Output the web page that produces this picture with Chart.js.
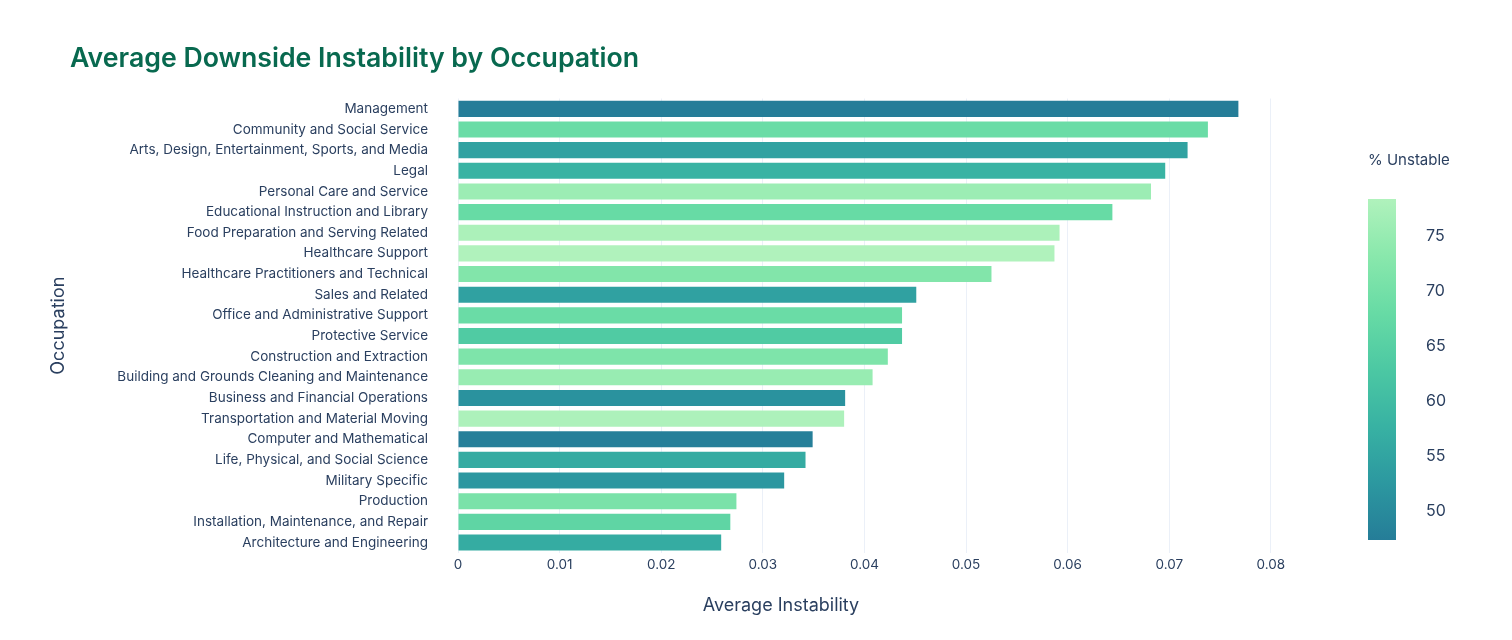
<!DOCTYPE html>
<html>
<head>
<meta charset="utf-8">
<script src="https://cdn.jsdelivr.net/npm/chart.js@4.4.1/dist/chart.umd.min.js"></script>
<style>
html, body { margin: 0; padding: 0; background: #fff; }
#wrap { width: 1512px; height: 640px; position: relative; }
</style>
</head>
<body>
<div id="wrap"><canvas id="chart"></canvas></div>
<script>
// data
const occupations = [
    'Management',
    'Community and Social Service',
    'Arts, Design, Entertainment, Sports, and Media',
    'Legal',
    'Personal Care and Service',
    'Educational Instruction and Library',
    'Food Preparation and Serving Related',
    'Healthcare Support',
    'Healthcare Practitioners and Technical',
    'Sales and Related',
    'Office and Administrative Support',
    'Protective Service',
    'Construction and Extraction',
    'Building and Grounds Cleaning and Maintenance',
    'Business and Financial Operations',
    'Transportation and Material Moving',
    'Computer and Mathematical',
    'Life, Physical, and Social Science',
    'Military Specific',
    'Production',
    'Installation, Maintenance, and Repair',
    'Architecture and Engineering'
];
const avgInstability = [
    0.0768, 0.0738, 0.0718, 0.0696, 0.0682, 0.0644, 0.0592, 0.0587, 0.0525, 0.0451, 0.0437,
    0.0437, 0.0423, 0.0408, 0.0381, 0.0380, 0.0349, 0.0342, 0.0321, 0.0274, 0.0268, 0.0259
];
const pctUnstable = [
    47.4, 68.5, 54.6, 58.0, 75.8, 68.0, 77.9, 78.4, 72.1, 54.4, 68.5,
    63.7, 71.5, 75.2, 51.4, 78.0, 47.8, 56.3, 52.3, 71.0, 66.5, 56.5
];
const xTicks = [0, 0.01, 0.02, 0.03, 0.04, 0.05, 0.06, 0.07, 0.08];
const colorbarTicks = [50, 55, 60, 65, 70, 75];

// Tealgrn colour scale, dark = low
const colorScale = ['#257d98', '#2c98a0', '#38b2a3', '#4cc8a3', '#67dba5', '#89e8ac', '#b0f2bc'];
const cMin = Math.min(...pctUnstable);
const cMax = Math.max(...pctUnstable);

function hexToRgb(h) {
    return [parseInt(h.slice(1, 3), 16), parseInt(h.slice(3, 5), 16), parseInt(h.slice(5, 7), 16)];
}

function scaleColor(v) {
    let t = (v - cMin) / (cMax - cMin);
    t = Math.max(0, Math.min(1, t));
    const pos = t * (colorScale.length - 1);
    const i = Math.min(Math.floor(pos), colorScale.length - 2);
    const f = pos - i;
    const a = hexToRgb(colorScale[i]);
    const b = hexToRgb(colorScale[i + 1]);
    const c = a.map((x, k) => Math.round(x + (b[k] - x) * f));
    return 'rgb(' + c.join(',') + ')';
}

const textColor = '#2a3f5f';
const fontFamily = 'Inter, "Noto Sans", sans-serif';

// colorbar and x axis title drawn beside the plot
const colorbarPlugin = {
    id: 'colorbar',
    afterDraw(chart) {
        const ctx = chart.ctx;
        const x = 1368, w = 28, top = 199, bottom = 540;
        const grad = ctx.createLinearGradient(0, bottom, 0, top);
        colorScale.forEach((c, i) => grad.addColorStop(i / (colorScale.length - 1), c));
        ctx.save();
        ctx.fillStyle = grad;
        ctx.fillRect(x, top, w, bottom - top);

        ctx.fillStyle = textColor;
        ctx.font = '15px ' + fontFamily;
        ctx.textAlign = 'left';
        ctx.textBaseline = 'middle';
        ctx.fillText('% Unstable', x, 160);

        ctx.font = '16px ' + fontFamily;
        colorbarTicks.forEach(v => {
            const y = bottom - (v - cMin) / (cMax - cMin) * (bottom - top);
            ctx.fillText(String(v), 1426, y);
        });

        // x axis title, centred on the figure like the original
        ctx.font = '18px ' + fontFamily;
        ctx.textAlign = 'center';
        ctx.fillText('Average Instability', 781, 606);
        ctx.restore();
    }
};

const ctx = document.getElementById('chart').getContext('2d');
const chart = new Chart(ctx, {
    type: 'bar',
    data: {
        labels: occupations,
        datasets: [{
            label: 'Average Instability',
            data: avgInstability,
            backgroundColor: pctUnstable.map(scaleColor),
            borderWidth: 0,
            barPercentage: 0.78,
            categoryPercentage: 1.0
        }]
    },
    options: {
        indexAxis: 'y',
        responsive: true,
        maintainAspectRatio: false,
        animation: false,
        layout: {
            padding: { left: 70, right: 235, top: 0, bottom: 63 }
        },
        plugins: {
            legend: { display: false },
            tooltip: { enabled: false },
            title: {
                display: true,
                text: 'Average Downside Instability by Occupation',
                align: 'start',
                color: '#08694f',
                font: { family: fontFamily, size: 26.7, weight: '600' },
                padding: { top: 43, bottom: 23.5 }
            }
        },
        scales: {
            x: {
                type: 'linear',
                min: 0,
                max: 0.0806,
                afterBuildTicks: function(scale) {
                    scale.ticks = xTicks.map(v => ({ value: v }));
                },
                ticks: {
                    color: textColor,
                    padding: 4,
                    font: { family: fontFamily, size: 13.5 },
                    callback: function(v) { return String(v); }
                },
                grid: { color: '#ebf0f8', lineWidth: 1, drawTicks: false },
                border: { display: false }
            },
            y: {
                type: 'category',
                grid: { display: false, drawTicks: false },
                border: { display: false },
                ticks: {
                    color: textColor,
                    padding: 30,
                    autoSkip: false,
                    font: { family: fontFamily, size: 13.5 }
                },
                title: {
                    display: true,
                    text: 'Occupation',
                    color: textColor,
                    font: { family: fontFamily, size: 18 },
                    padding: { top: -22, bottom: 0 }
                },
                afterFit: function(scale) {
                    scale.width = 388;
                }
            }
        }
    },
    plugins: [colorbarPlugin]
});
</script>
</body>
</html>
